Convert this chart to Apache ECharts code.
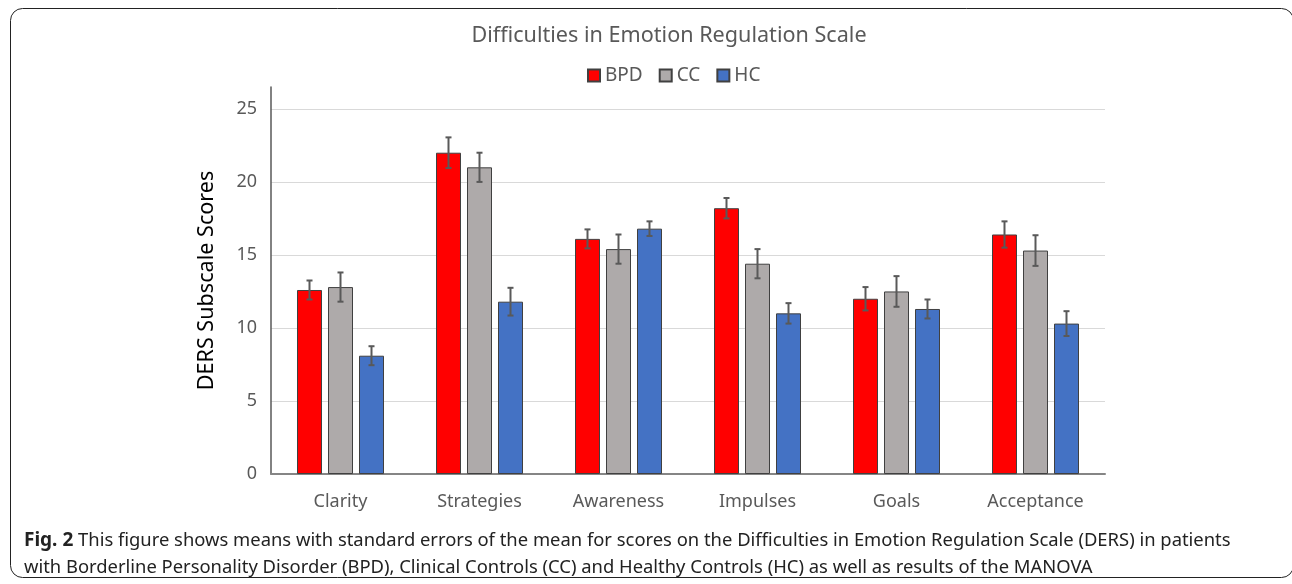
<!DOCTYPE html>
<html>
<head>
<meta charset="utf-8">
<script src="https://cdn.jsdelivr.net/npm/echarts@6/dist/echarts.min.js"></script>
<style>
  html, body { margin: 0; padding: 0; background: #fff; }
  #main { width: 1292px; height: 584px; }
</style>
</head>
<body>
<div id="main"></div>
<script>
// 数据
var categories = ['Clarity', 'Strategies', 'Awareness', 'Impulses', 'Goals', 'Acceptance'];
var groups = ['BPD', 'CC', 'HC'];
var bpd = [12.6, 22.0, 16.1, 18.2, 12.0, 16.4];
var cc = [12.8, 21.0, 15.4, 14.4, 12.5, 15.3];
var hc = [8.1, 11.8, 16.8, 11.0, 11.3, 10.3];
// 均值标准误
var bpdErr = [0.65, 1.05, 0.65, 0.7, 0.8, 0.9];
var ccErr = [1.0, 1.0, 1.0, 1.0, 1.05, 1.05];
var hcErr = [0.65, 0.95, 0.5, 0.7, 0.65, 0.85];
var yTicks = [0, 5, 10, 15, 20, 25];

var colors = ['#FF0000', '#AEAAAA', '#4472C4'];
var FONT = 'Noto Sans';
var BAR_W = 25;
var BAR_GAP = 6;

(function() {
    var myChart = echarts.init(document.getElementById('main'));

    var values = [bpd, cc, hc];
    var errs = [bpdErr, ccErr, hcErr];

    // 柱子
    var barSeries = groups.map(function(name, i) {
        return {
            name: name,
            type: 'bar',
            barWidth: BAR_W,
            barGap: (BAR_GAP / BAR_W * 100) + '%',
            data: values[i],
            itemStyle: {
                color: colors[i],
                borderColor: '#404040',
                borderWidth: 1
            },
            emphasis: { disabled: true }
        };
    });

    // 误差线
    var errSeries = groups.map(function(name, i) {
        return {
            type: 'custom',
            silent: true,
            z: 5,
            data: values[i].map(function(v, k) {
                return [k, v - errs[i][k], v + errs[i][k]];
            }),
            renderItem: function(params, api) {
                var off = (i - 1) * (BAR_W + BAR_GAP);
                var lo = api.coord([api.value(0), api.value(1)]);
                var hi = api.coord([api.value(0), api.value(2)]);
                var x = lo[0] + off;
                var cap = 3;
                var st = { stroke: '#595959', lineWidth: 2 };
                return {
                    type: 'group',
                    children: [
                        { type: 'line', shape: { x1: x, y1: lo[1], x2: x, y2: hi[1] }, style: st },
                        { type: 'line', shape: { x1: x - cap, y1: lo[1], x2: x + cap, y2: lo[1] }, style: st },
                        { type: 'line', shape: { x1: x - cap, y1: hi[1], x2: x + cap, y2: hi[1] }, style: st }
                    ]
                };
            }
        };
    });

    var option = {
        animation: false,
        title: {
            text: 'Difficulties in Emotion Regulation Scale',
            left: 664,
            textAlign: 'center',
            top: 20,
            textStyle: { fontFamily: FONT, fontSize: 21.6, fontWeight: 'normal', color: '#595959' }
        },
        legend: {
            data: groups,
            top: 61,
            left: 582,
            icon: 'rect',
            itemWidth: 12,
            itemHeight: 12,
            itemGap: 16,
            textStyle: { fontFamily: FONT, fontSize: 19, color: '#595959' }
        },
        grid: {
            left: 271,
            right: 187,
            top: 87,
            bottom: 110
        },
        xAxis: {
            type: 'category',
            data: categories,
            axisTick: { show: false },
            axisLine: { lineStyle: { color: '#858585', width: 2 } },
            axisLabel: { fontFamily: FONT, fontSize: 18, color: '#595959', margin: 19 }
        },
        yAxis: {
            type: 'value',
            min: yTicks[0],
            max: 26.5,
            interval: 5,
            name: 'DERS Subscale Scores',
            nameLocation: 'middle',
            nameGap: 53,
            nameTextStyle: { fontFamily: FONT, fontSize: 21.6, color: '#000' },
            axisLine: { show: true, lineStyle: { color: '#595959', width: 1.5 } },
            axisTick: { show: false },
            axisLabel: {
                fontFamily: FONT, fontSize: 18, color: '#595959', margin: 14,
                showMaxLabel: false,
                formatter: function(v) { return yTicks.indexOf(v) >= 0 ? v : ''; }
            },
            splitLine: { showMaxLine: false, lineStyle: { color: '#D9D9D9', width: 1 } }
        },
        graphic: [
            {
                type: 'rect',
                silent: true,
                shape: { x: 10.5, y: 8.5, width: 1283, height: 569, r: 12 },
                style: { fill: 'none', stroke: '#222', lineWidth: 1 }
            },
            {
                type: 'text',
                left: 24,
                top: 531,
                style: {
                    text: '{b|Fig. 2} This figure shows means with standard errors of the mean for scores on the Difficulties in Emotion Regulation Scale (DERS) in patients',
                    font: '18.4px "' + FONT + '"',
                    fill: '#222',
                    rich: { b: { fontWeight: 'bold', fontSize: 19, fontFamily: FONT, fill: '#222' } }
                }
            },
            {
                type: 'text',
                left: 24,
                top: 559,
                style: {
                    text: 'with Borderline Personality Disorder (BPD), Clinical Controls (CC) and Healthy Controls (HC) as well as results of the MANOVA',
                    font: '18.4px "' + FONT + '"',
                    fill: '#222'
                }
            }
        ],
        series: barSeries.concat(errSeries)
    };

    myChart.setOption(option);

    window.addEventListener('resize', function() {
        myChart.resize();
    });
})();
</script>
</body>
</html>
